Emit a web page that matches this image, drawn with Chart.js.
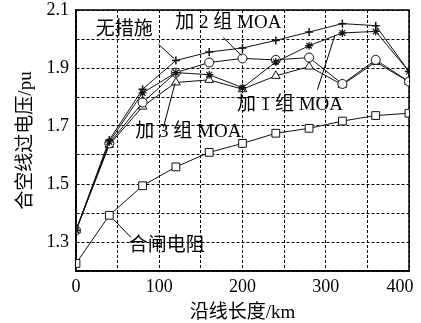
<!DOCTYPE html>
<html>
<head>
<meta charset="utf-8">
<script src="https://cdn.jsdelivr.net/npm/chart.js@4.4.0/dist/chart.umd.min.js"></script>
<style>
html,body{margin:0;padding:0;background:#fff;}
#wrap{width:421px;height:323px;position:relative;}
</style>
</head>
<body>
<div id="wrap"><canvas id="c" width="421" height="323"></canvas></div>
<script>
// ---- data ----
const distances = [0, 40, 80, 120, 160, 200, 240, 280, 320, 360, 400];
const noMeasure = [1.340, 1.652, 1.827, 1.926, 1.955, 1.969, 1.995, 2.024, 2.053, 2.046, 1.888];
const moa1 = [1.340, 1.645, 1.814, 1.884, 1.877, 1.832, 1.921, 1.977, 2.021, 2.026, 1.888];
const moa2 = [1.340, 1.640, 1.781, 1.884, 1.919, 1.933, 1.928, 1.936, 1.845, 1.928, 1.853];
const moa3 = [1.340, 1.635, 1.767, 1.850, 1.859, 1.827, 1.873, 1.905, 1.842, 1.921, 1.852];
const closingResistor = [1.226, 1.392, 1.494, 1.559, 1.609, 1.640, 1.675, 1.692, 1.717, 1.736, 1.744];
const seriesNames = ['无措施', '加 1 组 MOA', '加 2 组 MOA', '加 3 组 MOA', '合闸电阻'];
const xTickLabels = [0, 100, 200, 300, 400];
const yTickLabels = [1.3, 1.5, 1.7, 1.9, 2.1];
const xTitle = '沿线长度/km';
const yTitle = '合空线过电压/pu';

// annotation placement (data coordinates): text centre, leader start, leader end
const annotations = [
  { text: seriesNames[0], tx: 58,  ty: 2.032, x1: 99,  y1: 1.982, x2: 118, y2: 1.932 },
  { text: seriesNames[2], tx: 183, ty: 2.056, x1: 177, y1: 2.005, x2: 199, y2: 1.942 },
  { text: seriesNames[1], tx: 257, ty: 1.773, x1: 290, y1: 1.825, x2: 311, y2: 2.013 },
  { text: seriesNames[3], tx: 135, ty: 1.679, x1: 105, y1: 1.695, x2: 119, y2: 1.848 },
  { text: seriesNames[4], tx: 109, ty: 1.285, x1: 45,  y1: 1.378, x2: 66,  y2: 1.316 }
];

const FONT = "'Liberation Serif', 'Noto Sans CJK SC', serif";
const pts = arr => distances.map((d, i) => ({ x: d, y: arr[i] }));

const baseDs = {
  borderColor: '#111', borderWidth: 1, pointBorderColor: '#111',
  pointBackgroundColor: '#fff', pointBorderWidth: 1, tension: 0, fill: false
};

const frame = {
  id: 'frame',
  beforeDatasetsDraw(chart) {
    const { ctx, chartArea: a } = chart;
    ctx.save();
    ctx.strokeStyle = '#000';
    ctx.lineWidth = 1.5;
    ctx.strokeRect(a.left, a.top, a.right - a.left, a.bottom - a.top);
    ctx.restore();
  },
  afterDatasetsDraw(chart) {
    const { ctx } = chart;
    const xs = chart.scales.x, ys = chart.scales.y;
    ctx.save();
    ctx.font = "19px " + FONT;
    ctx.fillStyle = '#000';
    ctx.strokeStyle = '#000';
    ctx.lineWidth = 1;
    ctx.textAlign = 'center';
    ctx.textBaseline = 'middle';
    annotations.forEach(an => {
      ctx.beginPath();
      ctx.moveTo(xs.getPixelForValue(an.x1), ys.getPixelForValue(an.y1));
      ctx.lineTo(xs.getPixelForValue(an.x2), ys.getPixelForValue(an.y2));
      ctx.stroke();
      ctx.fillText(an.text, xs.getPixelForValue(an.tx), ys.getPixelForValue(an.ty));
    });
    ctx.restore();
  }
};

new Chart(document.getElementById('c'), {
  type: 'line',
  data: {
    datasets: [
      Object.assign({}, baseDs, { label: seriesNames[0], data: pts(noMeasure), pointStyle: 'cross', pointRadius: 4, pointBorderWidth: 1.5 }),
      Object.assign({}, baseDs, { label: seriesNames[1], data: pts(moa1), pointStyle: 'star', pointRadius: 4, pointBorderWidth: 1.2 }),
      Object.assign({}, baseDs, { label: seriesNames[2], data: pts(moa2), pointStyle: 'circle', pointRadius: 4.5 }),
      Object.assign({}, baseDs, { label: seriesNames[3], data: pts(moa3), pointStyle: 'triangle', pointRadius: 5 }),
      Object.assign({}, baseDs, { label: seriesNames[4], data: pts(closingResistor), pointStyle: 'rect', pointRadius: 5.5 })
    ]
  },
  options: {
    responsive: false,
    animation: false,
    layout: { padding: { left: 0, right: 12, top: 10, bottom: 0 } },
    plugins: { legend: { display: false }, tooltip: { enabled: false } },
    scales: {
      x: {
        type: 'linear', min: 0, max: 400,
        afterFit: s => { s.height = 52; s.paddingLeft = 0; s.paddingRight = 0; },
        ticks: {
          stepSize: 50, autoSkip: false, maxRotation: 0, padding: 5,
          color: '#000', font: { family: FONT, size: 18 },
          callback: v => xTickLabels.includes(v) ? (v === 400 ? '400\u2002\u2002' : String(v)) : ''
        },
        grid: { color: '#000', lineWidth: 1, drawTicks: false },
        border: { display: true, color: '#000', width: 1.5, dash: [3, 2] },
        title: { display: true, text: xTitle, color: '#000', font: { family: FONT, size: 19, lineHeight: 1 }, padding: { top: 0, bottom: 0 } }
      },
      y: {
        min: 1.2, max: 2.1,
        afterFit: s => { s.width = 76; s.paddingTop = 0; s.paddingBottom = 0; },
        ticks: {
          stepSize: 0.1, autoSkip: false, padding: 7,
          color: '#000', font: { family: FONT, size: 18 },
          callback: v => yTickLabels.some(t => Math.abs(t - v) < 1e-6) ? v.toFixed(1) : ''
        },
        grid: { color: '#000', lineWidth: 1, drawTicks: false },
        border: { display: true, color: '#000', width: 1.5, dash: [3, 2] },
        title: { display: true, text: yTitle, color: '#000', font: { family: FONT, size: 19, lineHeight: 1 }, padding: { top: 17, bottom: 0 } }
      }
    }
  },
  plugins: [frame]
});
</script>
</body>
</html>
